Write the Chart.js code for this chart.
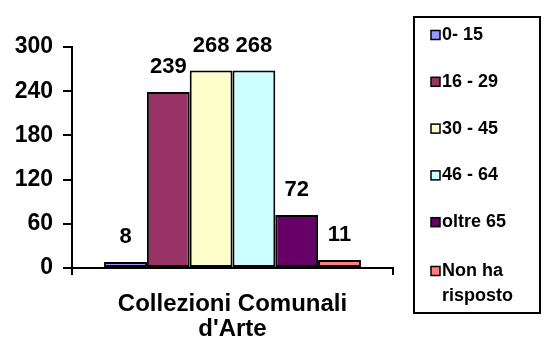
<!DOCTYPE html>
<html>
<head>
<meta charset="utf-8">
<script src="https://cdn.jsdelivr.net/npm/chart.js@4/dist/chart.umd.min.js"></script>
<style>
  html, body { margin: 0; padding: 0; background: #fff; }
  #wrap { width: 544px; height: 345px; }
</style>
</head>
<body>
<div id="wrap"><canvas id="c" width="544" height="345"></canvas></div>
<script>
// Visitor age groups for one museum
const categories = [['Collezioni Comunali', "d'Arte"]];
const seriesNames = ['0- 15', '16 - 29', '30 - 45', '46 - 64', 'oltre 65', 'Non ha risposto'];
const legendLines = [['0- 15'], ['16 - 29'], ['30 - 45'], ['46 - 64'], ['oltre 65'], ['Non ha', 'risposto']];
const seriesValues = [8, 239, 268, 268, 72, 11];
const yTicks = [0, 60, 120, 180, 240, 300];
const seriesColors = ['#9999FF', '#993366', '#FFFFCC', '#CCFFFF', '#660066', '#FF8080'];

const FONT = 'Liberation Sans, Arial, sans-serif';

// Numbers printed above each bar
const valueLabels = {
  id: 'valueLabels',
  afterDatasetsDraw(chart) {
    const ctx = chart.ctx;
    ctx.save();
    ctx.font = 'bold 22px ' + FONT;
    ctx.fillStyle = '#000';
    ctx.textAlign = 'center';
    ctx.textBaseline = 'middle';
    chart.data.datasets.forEach((ds, i) => {
      chart.getDatasetMeta(i).data.forEach((bar, j) => {
        ctx.fillText(String(ds.data[j]), bar.x, bar.y - 25);
      });
    });
    ctx.restore();
  }
};

// Boxed legend on the right
const boxedLegend = {
  id: 'boxedLegend',
  afterDraw(chart) {
    const ctx = chart.ctx;
    ctx.save();
    ctx.strokeStyle = '#000';
    ctx.lineWidth = 2;
    ctx.strokeRect(414, 17, 126, 296);
    ctx.font = 'bold 18px ' + FONT;
    ctx.textAlign = 'left';
    ctx.textBaseline = 'middle';
    chart.data.datasets.forEach((ds, i) => {
      const lines = legendLines[i];
      const y = 35 + i * 46.8 + (lines.length > 1 ? 2 : 0);
      ctx.fillStyle = ds.backgroundColor;
      ctx.fillRect(431, y - 4.5, 9, 9);
      ctx.lineWidth = 1.5;
      ctx.strokeRect(431, y - 4.5, 9, 9);
      ctx.fillStyle = '#000';
      lines.forEach((t, k) => ctx.fillText(t, 442, y + k * 25));
    });
    ctx.restore();
  }
};

new Chart(document.getElementById('c'), {
  type: 'bar',
  data: {
    labels: categories,
    datasets: seriesNames.map((name, i) => ({
      label: name,
      data: [seriesValues[i]],
      backgroundColor: seriesColors[i],
      borderColor: '#000',
      borderWidth: 2,
      borderSkipped: false,
      categoryPercentage: 0.8,
      barPercentage: 1.0
    }))
  },
  options: {
    responsive: false,
    devicePixelRatio: 1,
    animation: false,
    events: [],
    layout: { padding: { top: 47, right: 151, left: 0, bottom: 0 } },
    plugins: { legend: { display: false }, tooltip: { enabled: false } },
    scales: {
      x: {
        offset: true,
        grid: { display: true, offset: true, drawOnChartArea: false, drawTicks: true, tickLength: 7, color: '#000', lineWidth: 2 },
        border: { display: true, color: '#000', width: 2 },
        ticks: {
          color: '#000',
          font: { family: FONT, weight: 'bold', size: 24, lineHeight: 1.05 },
          padding: 17,
          maxRotation: 0,
          autoSkip: false
        },
        afterFit(s) { s.height = 77; }
      },
      y: {
        min: 0,
        max: 300,
        afterBuildTicks(s) { s.ticks = yTicks.map(v => ({ value: v })); },
        grid: { drawOnChartArea: false, drawTicks: true, tickLength: 9, color: '#000', lineWidth: 2 },
        border: { display: true, color: '#000', width: 2 },
        ticks: { color: '#000', font: { family: FONT, weight: 'bold', size: 23 }, padding: 10 },
        afterFit(s) { s.width = 72; }
      }
    }
  },
  plugins: [valueLabels, boxedLegend]
});
</script>
</body>
</html>
